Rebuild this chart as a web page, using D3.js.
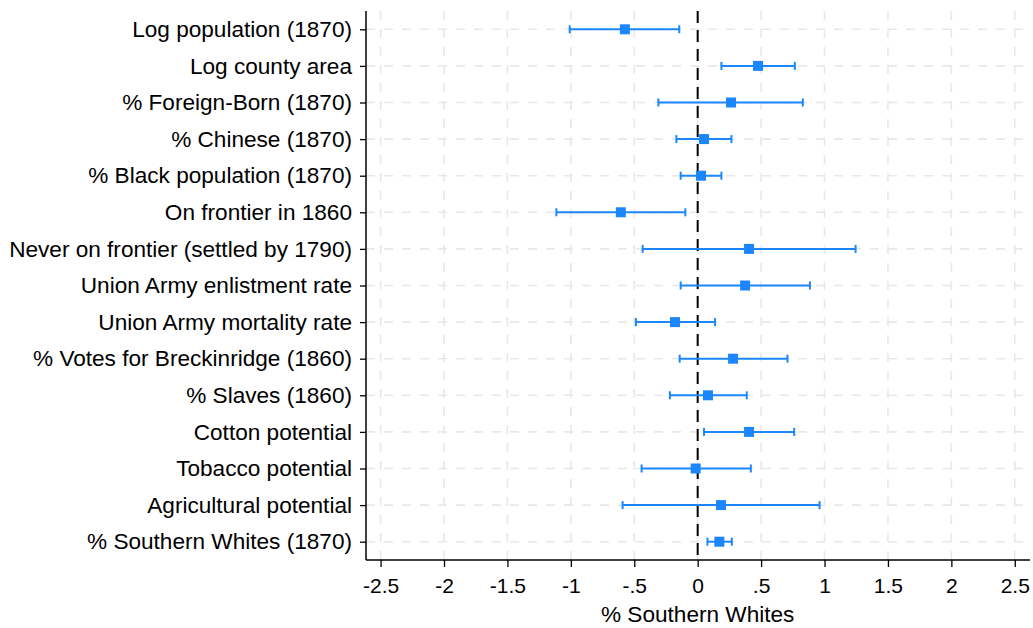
<!DOCTYPE html>
<html>
<head>
  <meta charset="UTF-8">
  <style>
    body {
        margin: 0;
        background: #fff;
        font-family: "Liberation Sans", Arial, sans-serif;
    }
    .lbl {
        font-size: 22.6px;
        fill: #000;
    }
    .tk {
        font-size: 21px;
        fill: #000;
    }
  </style>
</head>
<body>
<svg width="1033" height="628"></svg>

<script src="https://d3js.org/d3.v7.min.js"></script>
<script>

// coefficient labels, top to bottom
let labels = [
  "Log population (1870)",
  "Log county area",
  "% Foreign-Born (1870)",
  "% Chinese (1870)",
  "% Black population (1870)",
  "On frontier in 1860",
  "Never on frontier (settled by 1790)",
  "Union Army enlistment rate",
  "Union Army mortality rate",
  "% Votes for Breckinridge (1860)",
  "% Slaves (1860)",
  "Cotton potential",
  "Tobacco potential",
  "Agricultural potential",
  "% Southern Whites (1870)"
];
let estimates = [-0.574, 0.476, 0.263, 0.05, 0.026, -0.606, 0.405, 0.374, -0.179, 0.279, 0.081, 0.405, -0.016, 0.184, 0.171];
let ciLow  = [-1.009, 0.187, -0.31, -0.168, -0.134, -1.114, -0.434, -0.134, -0.487, -0.142, -0.219, 0.05, -0.442, -0.592, 0.077];
let ciHigh = [-0.145, 0.766, 0.829, 0.266, 0.187, -0.097, 1.245, 0.885, 0.137, 0.708, 0.387, 0.761, 0.419, 0.961, 0.269];
let xTicks = [-2.5, -2, -1.5, -1, -0.5, 0, 0.5, 1, 1.5, 2, 2.5];

let margin = {top: 11, right: 3, bottom: 68, left: 366},
  width = 1033 - margin.left - margin.right,
  height = 628 - margin.top - margin.bottom;

let blue = "#1c86ff";

let svg = d3.select("svg")
  .append("g")
  .attr("transform", "translate(" + margin.left + "," + margin.top + ")");

let x = d3.scaleLinear().domain([-2.615, 2.62]).range([0, width]);
let y = d3.scalePoint().domain(labels).range([0, height]).padding(0.5);

// stata style: plain hyphen, drop the leading zero
let fmt = d => String(d).replace(/^(-?)0\./, "$1.");

// grid
svg.append("g")
  .selectAll("line")
  .data(xTicks)
  .join("line")
    .attr("x1", d => x(d)).attr("x2", d => x(d))
    .attr("y1", 0).attr("y2", height)
    .attr("stroke", "#e8e8e8")
    .attr("stroke-width", 1.6)
    .attr("stroke-dasharray", "9,9");

svg.append("g")
  .selectAll("line")
  .data(labels)
  .join("line")
    .attr("x1", 0).attr("x2", width)
    .attr("y1", d => y(d)).attr("y2", d => y(d))
    .attr("stroke", "#e8e8e8")
    .attr("stroke-width", 1.6)
    .attr("stroke-dasharray", "9,9");

// zero line
svg.append("line")
  .attr("x1", x(0)).attr("x2", x(0))
  .attr("y1", 0).attr("y2", height)
  .attr("stroke", "#000")
  .attr("stroke-width", 2)
  .attr("stroke-dasharray", "12,7");

// axes
let xAxis = svg.append("g")
  .attr("transform", "translate(0," + height + ")")
  .call(d3.axisBottom(x).tickValues(xTicks).tickFormat(fmt).tickSize(7).tickPadding(11).tickSizeOuter(0));

let yAxis = svg.append("g")
  .call(d3.axisLeft(y).tickSize(6).tickPadding(8).tickSizeOuter(0));

[xAxis, yAxis].forEach(a => {
  a.select(".domain").attr("stroke", "#000").attr("stroke-width", 1.5);
  a.selectAll(".tick line").attr("stroke", "#000").attr("stroke-width", 1.3);
  a.selectAll("text").attr("fill", "#000").style("font-family", "Liberation Sans, Arial, sans-serif");
});
xAxis.selectAll("text").attr("class", "tk");
yAxis.selectAll("text").attr("class", "lbl");
yAxis.select(".domain").attr("d", "M0,0V" + height);
xAxis.select(".domain").attr("d", "M0,0H" + width);

// x title
svg.append("text")
  .attr("class", "lbl")
  .attr("x", x(0))
  .attr("y", height + 62)
  .attr("text-anchor", "middle")
  .text("% Southern Whites");

// error bars
let rows = labels.map((l, i) => ({label: l, est: estimates[i], lo: ciLow[i], hi: ciHigh[i]}));

let bars = svg.append("g").selectAll("g")
  .data(rows)
  .join("g");

bars.append("line")
  .attr("x1", d => x(d.lo)).attr("x2", d => x(d.hi))
  .attr("y1", d => y(d.label)).attr("y2", d => y(d.label))
  .attr("stroke", blue).attr("stroke-width", 2);

bars.selectAll(".cap")
  .data(d => [{v: d.lo, l: d.label}, {v: d.hi, l: d.label}])
  .join("line")
    .attr("class", "cap")
    .attr("x1", d => x(d.v)).attr("x2", d => x(d.v))
    .attr("y1", d => y(d.l) - 4).attr("y2", d => y(d.l) + 4)
    .attr("stroke", blue).attr("stroke-width", 2);

bars.append("rect")
  .attr("x", d => x(d.est) - 5)
  .attr("y", d => y(d.label) - 5)
  .attr("width", 10).attr("height", 10)
  .attr("fill", blue);

</script>
</body>
</html>
